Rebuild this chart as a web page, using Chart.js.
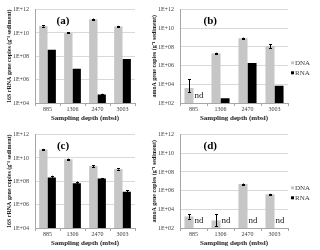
<!DOCTYPE html>
<html><head><meta charset="utf-8">
<script src="https://cdn.jsdelivr.net/npm/chart.js@4.4.1/dist/chart.umd.min.js"></script>
<style>
html,body{margin:0;padding:0;background:#fff;width:320px;height:250px;overflow:hidden}
.p{position:absolute}
canvas{display:block}
</style></head><body>
<div class="p" style="left:0;top:0;width:145px;height:125px"><canvas id="ca" width="145" height="125"></canvas></div>
<div class="p" style="left:145px;top:0;width:175px;height:125px"><canvas id="cb" width="175" height="125"></canvas></div>
<div class="p" style="left:0;top:125px;width:145px;height:125px"><canvas id="cc" width="145" height="125"></canvas></div>
<div class="p" style="left:145px;top:125px;width:175px;height:125px"><canvas id="cd" width="175" height="125"></canvas></div>
<script>
// ---------- data ----------
const depths = ['885', '1306', '2470', '3003'];
const seriesNames = ['DNA', 'RNA'];

// (a) 16S rRNA, site 1
const dnaA = [4.0e10, 1.0e10, 1.5e11, 3.6e10];
const rnaA = [3.7e8, 8.7e6, 5.4e4, 5.8e7];
const dnaAUp = [4.6e10, 1.15e10, 1.7e11, 4.1e10];
const dnaALo = [3.5e10, 0.9e10, 1.3e11, 3.2e10];
const rnaAUp = [null, null, 6.2e4, null];
const rnaALo = [null, null, 4.8e4, null];

// (b) amoA, site 1
const dnaB = [4.0e3, 2.0e7, 8.7e8, 1.3e8];
const rnaB = [null, 3.2e2, 1.95e6, 6.9e3];
const dnaBUp = [3.3e4, 2.4e7, 1.0e9, 2.0e8];
const dnaBLo = [1.5e3, 1.7e7, 7.5e8, 8.0e7];
const rnaBUp = [null, null, null, null];
const rnaBLo = [null, null, null, null];
const ndB = [true, false, false, false];

// (c) 16S rRNA, site 2
const dnaC = [5.2e10, 7.6e9, 2.0e9, 1.15e9];
const rnaC = [2.1e8, 6.9e7, 1.7e8, 1.26e7];
const dnaCUp = [6.0e10, 8.8e9, 2.3e9, 1.3e9];
const dnaCLo = [4.5e10, 6.6e9, 1.7e9, 1.0e9];
const rnaCUp = [3.0e8, 9.5e7, 1.95e8, 1.7e7];
const rnaCLo = [1.5e8, 5.0e7, 1.5e8, 0.95e7];

// (d) amoA, site 2
const dnaD = [1.7e3, 6.3e2, 5.0e6, 4.0e5];
const rnaD = [null, null, null, null];
const dnaDUp = [3.0e3, 3.2e3, 5.8e6, 4.6e5];
const dnaDLo = [1.0e3, 1.5e2, 4.3e6, 3.5e5];
const rnaDUp = [null, null, null, null];
const rnaDLo = [null, null, null, null];
const ndD = [true, true, true, true];

const yTicks16S = [1e4, 1e6, 1e8, 1e10, 1e12];
const yLabels16S = ['1E+04', '1E+06', '1E+08', '1E+10', '1E+12'];
const yTicksAmoA = [1e2, 1e4, 1e6, 1e8, 1e10, 1e12];
const yLabelsAmoA = ['1E+02', '1E+04', '1E+06', '1E+08', '1E+10', '1E+12'];

const title16S = '16S rRNA gene copies (g\u207B\u00B9 sediment)';
const titleAmoA = 'amoA gene copies (g\u207B\u00B9 sediment)';
const xTitle = 'Sampling depth (mbsl)';

// ---------- styles ----------
const SERIF = '"Liberation Serif", "Times New Roman", serif';
const DNA_COLOR = '#c6c6c6';
const RNA_COLOR = '#000000';
const GRID = '#d9d9d9';
const AXIS = '#a6a6a6';
const TXT = '#404040';

const extras = {
  id: 'extras',
  afterDatasetsDraw(chart, args, o) {
    const ctx = chart.ctx;
    const ys = chart.scales.y;
    const ca = chart.chartArea;
    ctx.save();
    // error bars
    o.errors.forEach((err, di) => {
      const meta = chart.getDatasetMeta(di);
      err.up.forEach((u, i) => {
        const l = err.lo[i];
        if (u == null || l == null) return;
        const el = meta.data[i];
        if (!el) return;
        const x = Math.round(el.x) + 0.5;
        const y1 = ys.getPixelForValue(u);
        const y2 = Math.min(ys.getPixelForValue(l), ca.bottom);
        ctx.strokeStyle = '#000';
        ctx.lineWidth = 1;
        ctx.beginPath();
        ctx.moveTo(x, y1); ctx.lineTo(x, y2);
        ctx.moveTo(x - 1.5, Math.round(y1) + 0.5); ctx.lineTo(x + 1.5, Math.round(y1) + 0.5);
        if (y2 < ca.bottom) { ctx.moveTo(x - 1.5, Math.round(y2) + 0.5); ctx.lineTo(x + 1.5, Math.round(y2) + 0.5); }
        ctx.stroke();
      });
    });
    // nd labels
    if (o.nd) {
      const m0 = chart.getDatasetMeta(0);
      ctx.fillStyle = '#202020';
      ctx.font = '9px ' + SERIF;
      ctx.textAlign = 'center';
      ctx.textBaseline = 'middle';
      o.nd.forEach((f, i) => {
        if (!f) return;
        const el = m0.data[i];
        const x = el.x + el.width;
        ctx.fillText('nd', x + 1, ca.bottom - 7);
      });
    }
    // panel label
    ctx.fillStyle = '#000';
    ctx.font = 'bold 11px ' + SERIF;
    ctx.textAlign = 'center';
    ctx.textBaseline = 'middle';
    ctx.fillText(o.panel, ca.left + (ca.right - ca.left) * 0.28, ca.top + 12);
    // legend
    if (o.legend) {
      const lx = ca.right + 3;
      const cy = (ca.top + ca.bottom) / 2;
      const items = [[seriesNames[0], DNA_COLOR, cy + 7], [seriesNames[1], RNA_COLOR, cy + 17]];
      ctx.font = '7px ' + SERIF;
      ctx.textAlign = 'left';
      items.forEach(([t, c, y]) => {
        ctx.fillStyle = c;
        ctx.fillRect(lx, y - 2, 3, 3);
        ctx.fillStyle = TXT;
        ctx.fillText(t, lx + 4, y);
      });
    }
    ctx.restore();
  }
};

function make(id, dna, rna, ticks, labels, yMin, yTitle, padRight, errs, panel, nd, legend) {
  return new Chart(document.getElementById(id), {
    type: 'bar',
    data: {
      labels: depths,
      datasets: [
        { label: seriesNames[0], data: dna, backgroundColor: DNA_COLOR, borderWidth: 0 },
        { label: seriesNames[1], data: rna, backgroundColor: RNA_COLOR, borderWidth: 0 }
      ]
    },
    options: {
      responsive: false,
      animation: false,
      devicePixelRatio: 1,
      layout: { padding: { top: 5, right: padRight, left: 0, bottom: 0 } },
      datasets: { bar: { categoryPercentage: 0.67, barPercentage: 1.0 } },
      plugins: {
        legend: { display: false },
        tooltip: { enabled: false },
        extras: { errors: errs, panel: panel, nd: nd, legend: legend }
      },
      scales: {
        x: {
          type: 'category',
          offset: true,
          grid: { display: true, offset: true, drawOnChartArea: false, drawTicks: true, tickLength: 3, color: AXIS },
          border: { display: true, color: AXIS },
          ticks: { color: TXT, font: { family: SERIF, size: 6 }, padding: 0, maxRotation: 0 },
          title: { display: true, text: xTitle, color: '#202020', font: { family: SERIF, size: 7, weight: 'bold' }, padding: { top: 0, bottom: 3 } },
          afterFit(s) { s.height = 22; }
        },
        y: {
          type: 'logarithmic',
          min: yMin,
          max: 1e12,
          afterBuildTicks(s) { s.ticks = ticks.map(v => ({ value: v })); },
          grid: { color: GRID, drawTicks: false, lineWidth: 1 },
          border: { display: true, color: AXIS },
          ticks: {
            color: TXT, font: { family: SERIF, size: 6 }, padding: 6,
            callback(v) { const k = ticks.indexOf(v); return k >= 0 ? labels[k] : ''; }
          },
          title: { display: true, text: yTitle, color: '#202020', font: { family: SERIF, size: 6, weight: 'bold' }, padding: { top: 6, bottom: 0 } },
          afterFit(s) { s.width = 35; }
        }
      }
    },
    plugins: [extras]
  });
}

make('ca', dnaA, rnaA, yTicks16S, yLabels16S, 1e4, title16S, 10,
  [{ up: dnaAUp, lo: dnaALo }, { up: rnaAUp, lo: rnaALo }], '(a)', null, false);
make('cb', dnaB, rnaB, yTicksAmoA, yLabelsAmoA, 1e2, titleAmoA, 32,
  [{ up: dnaBUp, lo: dnaBLo }, { up: rnaBUp, lo: rnaBLo }], '(b)', ndB, true);
make('cc', dnaC, rnaC, yTicks16S, yLabels16S, 1e4, title16S, 10,
  [{ up: dnaCUp, lo: dnaCLo }, { up: rnaCUp, lo: rnaCLo }], '(c)', null, false);
make('cd', dnaD, rnaD, yTicksAmoA, yLabelsAmoA, 1e2, titleAmoA, 32,
  [{ up: dnaDUp, lo: dnaDLo }, { up: rnaDUp, lo: rnaDLo }], '(d)', ndD, true);
</script>
</body></html>
